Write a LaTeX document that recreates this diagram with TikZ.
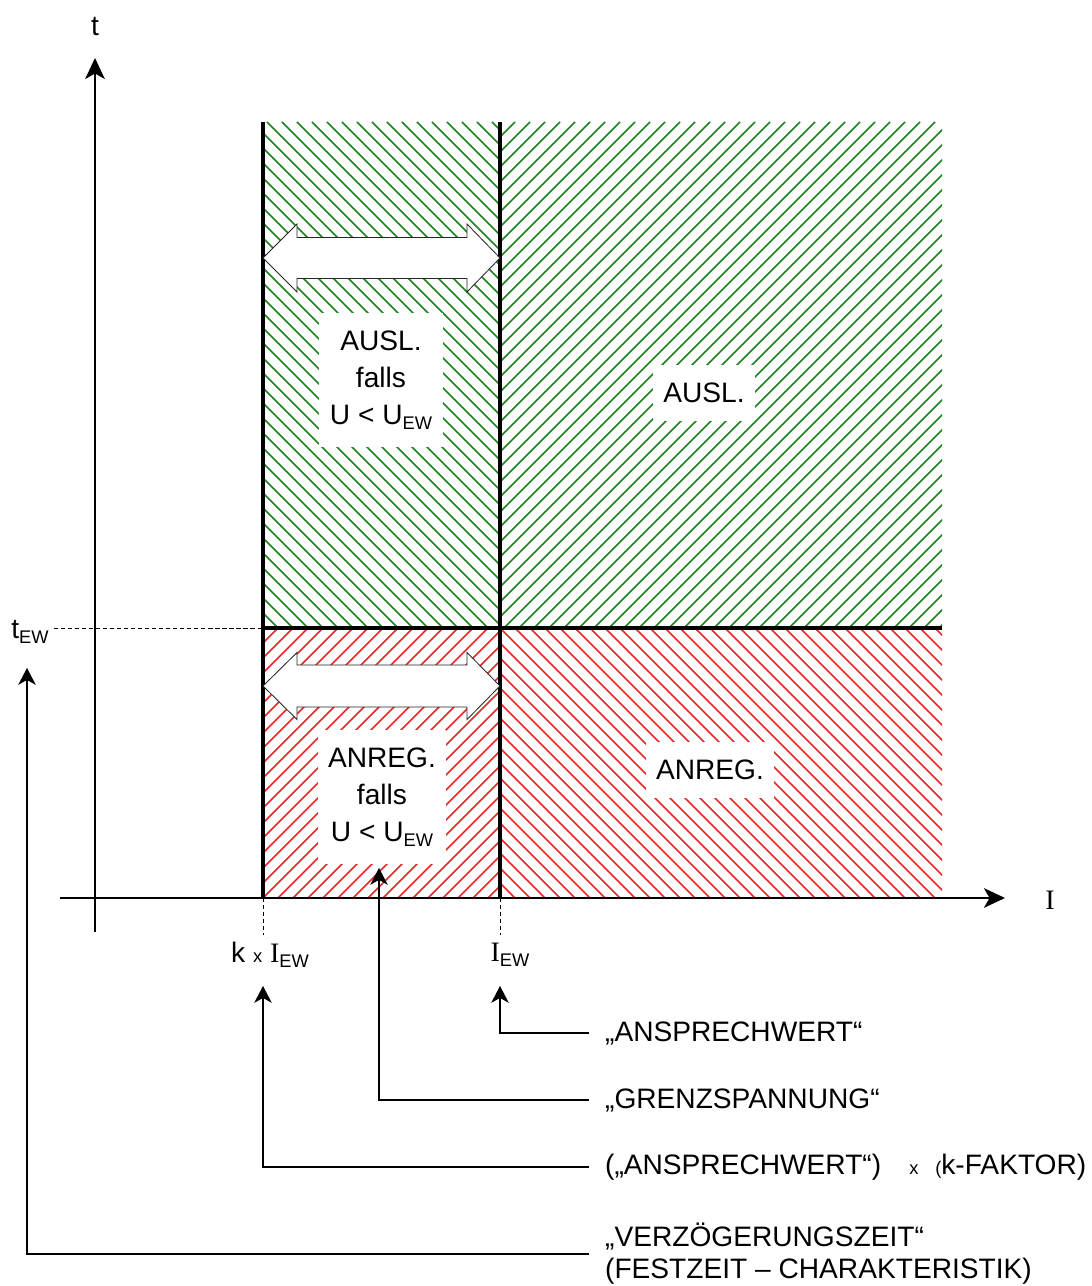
\documentclass[tikz,border=0pt]{standalone}
\usepackage{fontspec}
\setmainfont{Liberation Sans}
\newfontfamily\serifI{Liberation Serif}
\usetikzlibrary{arrows.meta}

\definecolor{hatchgreen}{RGB}{30,130,30}
\definecolor{hatchred}{RGB}{232,40,40}

\newcommand{\ewsub}{\raisebox{-0.3ex}{\fontsize{13}{13}\selectfont EW}}
\newcommand{\smallx}{{\fontsize{13}{13}\selectfont x}}
\newcommand{\smallparen}{{\fontsize{13}{13}\selectfont (}}
\newcommand{\bigI}{{\serifI I}}

\begin{document}
\begin{tikzpicture}[x=0.025cm,y=0.025cm,
  txt/.style={font=\fontsize{20}{26.6}\selectfont},
  fieldbox/.style={txt,fill=white,align=center,inner xsep=7.5pt,inner ysep=12.5pt},
  callout/.style={font=\fontsize{20}{22.7}\selectfont,anchor=west,align=left,inner xsep=11.3pt,inner ysep=0pt},
  hatchline/.style={line width=1.2pt},
  axis/.style={line width=1.1pt,-{Stealth[length=15pt,width=14pt,inset=4pt]}},
  border/.style={line width=2.4pt},
  guide/.style={line width=0.6pt,dash pattern=on 3pt off 2pt},
  dblarrow/.style={draw=black!85,line width=0.6pt,fill=white,line join=miter},
  callline/.style={line width=0.75pt,-{Stealth[length=12pt,width=12.5pt,inset=3.5pt]}}]
\useasboundingbox (0,0) rectangle (1091,1286);

% hatched fields
\begin{scope}
  \clip (263,658) rectangle (500,1164);
  \foreach \i in {0,...,50} \draw[hatchline,hatchgreen] ({-243+15*\i},1164) -- ++(506,-506);
\end{scope}
\begin{scope}
  \clip (500,658) rectangle (942,1164);
  \foreach \i in {0,...,64} \draw[hatchline,hatchgreen] ({-6+15*\i},658) -- ++(506,506);
\end{scope}
\begin{scope}
  \clip (263,388) rectangle (500,658);
  \foreach \i in {0,...,34} \draw[hatchline,hatchred] ({-7+15*\i},388) -- ++(270,270);
\end{scope}
\begin{scope}
  \clip (500,388) rectangle (942,658);
  \foreach \i in {0,...,48} \draw[hatchline,hatchred] ({230+15*\i},658) -- ++(270,-270);
\end{scope}

% axes
\coordinate (tbot) at (95,354);
\coordinate (ttop) at (95,1228);
\coordinate (ileft) at (60,388);
\coordinate (iright) at (1005,388);
\draw[axis] (tbot) -- (ttop);
\draw[axis] (ileft) -- (iright);
\node[txt] (tlab) at (95,1259) {t};
\node[txt] (ilab) at (1050,386) {\bigI};

% borders of the fields
\coordinate (midleft) at (263,658);
\draw[border] (263,1164) -- (263,388);
\draw[border] (500,1164) -- (500,388);
\draw[border] (midleft) -- (942,658);

% guide lines and values
\node[txt] (tew) at (30,654) {t\ewsub};
\node[txt] (kiew) at (270,331) {k \smallx\ \bigI\ewsub};
\node[txt] (iew) at (510,331) {\bigI\ewsub};
\draw[guide] (tew.east |- midleft) -- (midleft);
\draw[guide] (263,388) -- (263,351);
\draw[guide] (500,388) -- (500,351);

% double arrows
\draw[dblarrow] (263,1028) -- (297,1062) -- (297,1048.5) -- (467,1048.5) -- (467,1062)
  -- (500,1028) -- (467,994) -- (467,1007.5) -- (297,1007.5) -- (297,994) -- cycle;
\draw[dblarrow] (263,600) -- (297,633.5) -- (297,621) -- (467,621) -- (467,633.5)
  -- (500,600) -- (467,566.5) -- (467,579) -- (297,579) -- (297,566.5) -- cycle;

% field labels
\node[fieldbox] (auslv) at (381,906) {AUSL.\\falls\\U < U\ewsub};
\node[fieldbox] (ausl) at (704,893) {AUSL.};
\node[fieldbox] (anregv) at (382,489) {ANREG.\\falls\\U < U\ewsub};
\node[fieldbox] (anreg) at (710,516) {ANREG.};

% callouts
\coordinate (iewtip) at (500,300);
\coordinate (grenztip) at (379,418);
\coordinate (kiewtip) at (263,300);
\coordinate (tewtip) at (27,618);
\node[callout] (anspr) at (589,253) {„ANSPRECHWERT“};
\node[callout] (grenz) at (589,186) {„GRENZSPANNUNG“};
\node[callout] (kfak) at (589,119) {(„ANSPRECHWERT“)\hspace{20pt}\smallx\hspace{12pt}\smallparen k-FAKTOR)};
\node[callout] (verz) at (589,32) {„VERZÖGERUNGSZEIT“\\(FESTZEIT – CHARAKTERISTIK)};
\draw[callline] (anspr.west) -| (iewtip);
\draw[callline] (grenz.west) -| (grenztip);
\draw[callline] (kfak.west) -| (kiewtip);
\draw[callline] (verz.west) -| (tewtip);
\end{tikzpicture}
\end{document}
